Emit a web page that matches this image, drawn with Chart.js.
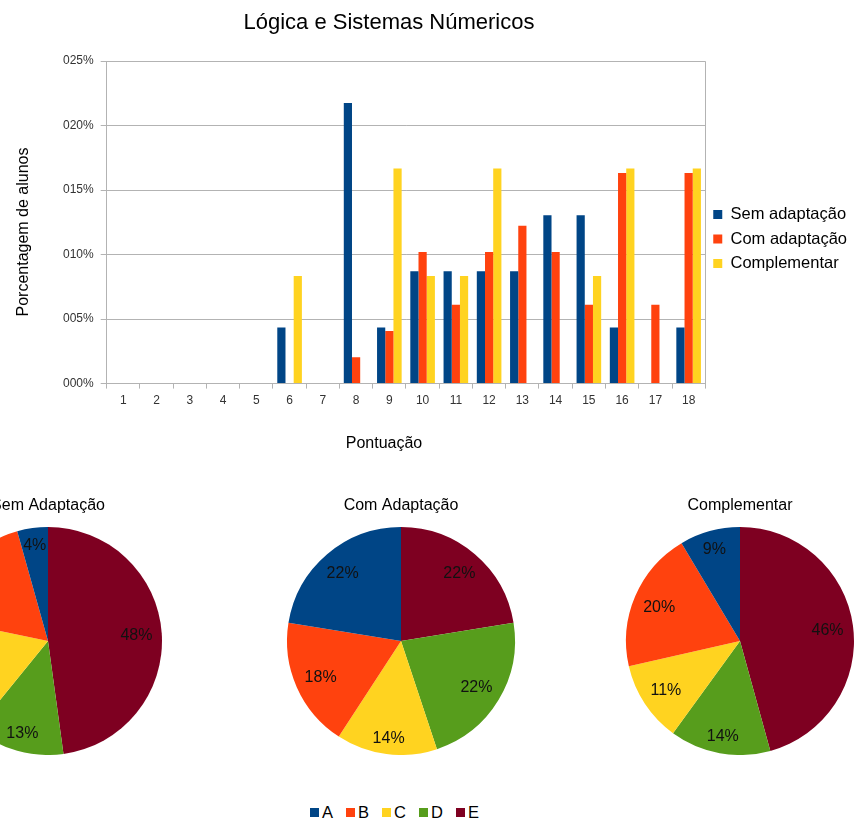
<!DOCTYPE html>
<html lang="pt">
<head>
<meta charset="UTF-8">
<title>Lógica e Sistemas Númericos</title>
<script src="https://cdn.jsdelivr.net/npm/chart.js"></script>
<style>
    body {
        margin: 0;
        width: 854px;
        height: 825px;
        overflow: hidden;
        position: relative;
        background: #fff;
        font-family: "Liberation Sans", Arial, sans-serif;
        color: #000;
    }
    .label {
        position: absolute;
        width: 400px;
        text-align: center;
        white-space: nowrap;
    }
    #mainTitle { left: 189px; top: 8px; font-size: 22px; line-height: 28px; }
    #xTitle { left: 184px; top: 433px; font-size: 16px; line-height: 20px; }
    #yTitle {
        left: -177px; top: 222px; font-size: 16px; line-height: 20px;
        transform: rotate(-90deg);
    }
    #barChart { position: absolute; left: 0; top: 0; }
    .pie { position: absolute; top: 495px; }
    #pieSemCanvas { left: -72px; }
    #pieComCanvas { left: 281px; }
    #pieCompCanvas { left: 620px; }
    #gradeLegend {
        position: absolute;
        left: 310px;
        top: 803px;
        display: flex;
        align-items: center;
        font-size: 16.5px;
    }
    #gradeLegend span.item { display: flex; align-items: center; margin-right: 13px; }
    #gradeLegend span.box { display: inline-block; width: 9px; height: 9px; margin-right: 3px; }
</style>
</head>
<body>

<canvas id="barChart" width="862" height="455"></canvas>
<div id="mainTitle" class="label">Lógica e Sistemas Númericos</div>
<div id="yTitle" class="label">Porcentagem de alunos</div>
<div id="xTitle" class="label">Pontuação</div>
<canvas id="pieSemCanvas" class="pie" width="240" height="260"></canvas>
<canvas id="pieComCanvas" class="pie" width="240" height="260"></canvas>
<canvas id="pieCompCanvas" class="pie" width="240" height="260"></canvas>
<div id="gradeLegend"></div>

<script>
// pontuação (eixo x)
const scores = ['1','2','3','4','5','6','7','8','9','10','11','12','13','14','15','16','17','18'];

// porcentagem de alunos por pontuação
const semAdaptacao = [0, 0, 0, 0, 0, 4.35, 0, 21.74, 4.35, 8.70, 8.70, 8.70, 8.70, 13.04, 13.04, 4.35, 0, 4.35];
const comAdaptacao = [0, 0, 0, 0, 0, 0, 0, 2.04, 4.08, 10.20, 6.12, 10.20, 12.24, 10.20, 6.12, 16.33, 6.12, 16.33];
const complementar = [0, 0, 0, 0, 0, 8.33, 0, 0, 16.67, 8.33, 8.33, 16.67, 0, 0, 8.33, 16.67, 0, 16.67];

// conceitos (pizzas)
const grades = ['A', 'B', 'C', 'D', 'E'];
const pieSem = [4.35, 17.39, 17.39, 13.04, 47.83];
const pieCom = [22.45, 18.37, 14.29, 22.45, 22.45];
const pieComp = [8.57, 20.00, 11.43, 14.29, 45.71];

const colors = ['#004586', '#ff420e', '#ffd320', '#579d1c', '#7e0021'];
const FONT = '"Liberation Sans", Arial, sans-serif';
Chart.defaults.font.family = FONT;
Chart.defaults.color = '#000';

// borda da área do gráfico (topo e direita)
const frame = {
    id: 'frame',
    beforeDatasetsDraw(chart) {
        const a = chart.chartArea;
        const ctx = chart.ctx;
        ctx.save();
        ctx.strokeStyle = '#b3b3b3';
        ctx.lineWidth = 1;
        ctx.beginPath();
        ctx.moveTo(Math.round(a.left) + 0.5, Math.round(a.top) + 0.5);
        ctx.lineTo(Math.round(a.right) + 0.5, Math.round(a.top) + 0.5);
        ctx.lineTo(Math.round(a.right) + 0.5, Math.round(a.bottom) + 0.5);
        ctx.stroke();
        ctx.restore();
    }
};

new Chart(document.getElementById('barChart'), {
    type: 'bar',
    data: {
        labels: scores,
        datasets: [
            { label: 'Sem adaptação', data: semAdaptacao, backgroundColor: colors[0] },
            { label: 'Com adaptação', data: comAdaptacao, backgroundColor: colors[1] },
            { label: 'Complementar', data: complementar, backgroundColor: colors[2] }
        ]
    },
    options: {
        responsive: false,
        animation: false,
        categoryPercentage: 0.74,
        barPercentage: 1,
        // espaço dos títulos dos eixos (desenhados fora do canvas)
        layout: { padding: { left: 56, right: 5, top: 61, bottom: 42 } },
        plugins: {
            title: { display: false },
            legend: {
                position: 'right',
                fullSize: false,
                title: { display: true, text: '', font: { size: 12 }, padding: 9.5 },
                labels: {
                    boxWidth: 9, boxHeight: 9,
                    font: { size: 16.5 },
                    color: '#000',
                    padding: 8
                }
            },
            tooltip: { enabled: false }
        },
        scales: {
            x: {
                grid: { offset: true, drawOnChartArea: false, tickLength: 5, color: '#b3b3b3' },
                border: { color: '#b3b3b3' },
                ticks: { font: { size: 12 }, color: '#333', padding: 5, maxRotation: 0 }
            },
            y: {
                min: 0, max: 25,
                grid: { color: '#b3b3b3', tickLength: 6 },
                border: { color: '#b3b3b3' },
                ticks: {
                    stepSize: 5,
                    font: { size: 12 }, color: '#333', padding: 7,
                    callback: v => String(v).padStart(3, '0') + '%'
                }
            }
        }
    },
    plugins: [frame]
});

// rótulos de porcentagem dentro das fatias
const sliceLabels = {
    id: 'sliceLabels',
    afterDatasetsDraw(chart) {
        const ctx = chart.ctx;
        const data = chart.data.datasets[0].data;
        const total = data.reduce((a, b) => a + b, 0);
        ctx.save();
        ctx.font = '16px ' + FONT;
        ctx.fillStyle = '#111';
        ctx.textAlign = 'center';
        ctx.textBaseline = 'middle';
        chart.getDatasetMeta(0).data.forEach((arc, i) => {
            const p = arc.getProps(['x', 'y', 'startAngle', 'endAngle', 'outerRadius'], true);
            const mid = (p.startAngle + p.endAngle) / 2;
            const txt = Math.round(data[i] / total * 100) + '%';
            const hw = ctx.measureText(txt).width / 2;
            const c = Math.cos(mid), s = Math.sin(mid);
            const r = p.outerRadius - 9 - (Math.abs(c) * hw + Math.abs(s) * 6);
            ctx.fillText(txt, p.x + c * r, p.y + s * r + 1);
        });
        ctx.restore();
    }
};

// LibreOffice desenha as fatias no sentido anti-horário: inverte a ordem
function makePie(id, title, values) {
    new Chart(document.getElementById(id), {
        type: 'pie',
        data: {
            labels: grades.slice().reverse(),
            datasets: [{
                data: values.slice().reverse(),
                backgroundColor: colors.slice().reverse(),
                borderWidth: 0
            }]
        },
        options: {
            responsive: false,
            animation: false,
            plugins: {
                title: {
                    display: true, text: title,
                    font: { size: 16, weight: 'normal' }, color: '#000',
                    padding: { top: 1, bottom: 11.8 }
                },
                legend: { display: false },
                tooltip: { enabled: false }
            }
        },
        plugins: [sliceLabels]
    });
}

makePie('pieSemCanvas', 'Sem Adaptação', pieSem);
makePie('pieComCanvas', 'Com Adaptação', pieCom);
makePie('pieCompCanvas', 'Complementar', pieComp);

// legenda comum das pizzas
const legendBox = document.getElementById('gradeLegend');
grades.forEach((g, i) => {
    const item = document.createElement('span');
    item.className = 'item';
    item.innerHTML = '<span class="box" style="background:' + colors[i] + '"></span>' + g;
    legendBox.appendChild(item);
});
</script>

</body>
</html>
